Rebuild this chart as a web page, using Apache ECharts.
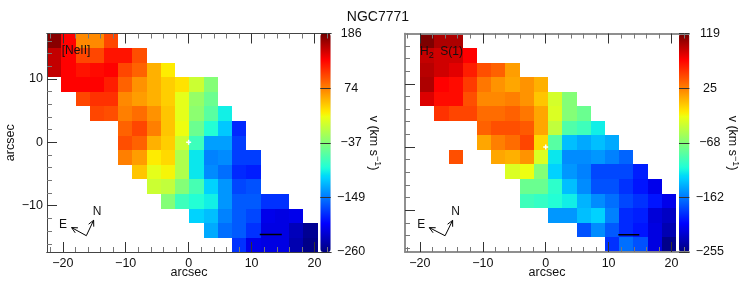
<!DOCTYPE html>
<html><head><meta charset="utf-8">
<style>html,body{margin:0;padding:0;background:#fff}#c{width:747px;height:285px}</style>
<script src="https://cdn.jsdelivr.net/npm/echarts@6/dist/echarts.min.js"></script>
</head><body><div id="c"></div>
<script>
// Velocity maps (km/s); each row is listed from its first filled column, top row first.
const neFirstCol = [0,0,0,1,2,3,5,5,5,6,7,8,10,11,13];
const neRows = [
 [177,132,70,70,101],
 [155,132,101,101,124,124,97],
 [155,132,124,128,132,101,88,52,25],
 [132,132,132,119,88,66,52,39,30,-1,-37],
 [101,110,110,70,61,52,39,12,-28,-50],
 [101,97,75,83,66,43,12,-33,-59,-95],
 [88,101,75,43,17,-50,-86,-113,-184],
 [97,88,52,39,-1,-73,-131,-131,-175],
 [75,61,25,34,-15,-99,-144,-140,-175,-175],
 [43,12,21,-15,-99,-140,-153,-184,-189],
 [-1,-6,-37,-68,-108,-135,-171,-166],
 [-37,-73,-86,-95,-135,-162,-162,-180,-180],
 [-108,-117,-144,-162,-171,-211,-215,-211],
 [-126,-153,-162,-180,-215,-215,-233,-251],
 [-180,-211,-215,-215,-238,-256]
];
const h2FirstCol = [1,1,1,1,1,2,5,5,3,7,8,8,10,12,14];
const h2Rows = [
 [115,100,100],
 [93,89,89,74],
 [97,89,83,63,44,37,14],
 [100,74,70,52,29,18,11,18,7],
 [85,70,70,44,22,22,26,18,-1,-34,-68],
 [55,48,48,33,33,37,29,11,-31,-68,-79],
 [37,44,44,40,11,-42,-90,-98,-117],
 [11,26,33,48,-8,-87,-135,-143,-135,-143],
 [44,null,null,11,7,18,-31,-120,-154,-154,-150,-158,-169],
 [-31,-23,-68,-128,-150,-158,-180,-180,-180,-195],
 [-79,-79,-105,-135,-154,-176,-176,-188,-199,-214],
 [-98,-102,-109,-117,-139,-154,-165,-180,-188,-199,-214],
 [-150,-150,-135,-128,-158,-191,-195,-221,-229],
 [-176,-154,-173,-191,-199,-218,-236],
 [-188,-165,-176,-218,-251]
];
const neColorTicks = [-260,-149,-37,74,186];
const h2ColorTicks = [-255,-162,-68,25,119];
const xMajor = [-20,-10,0,10,20];
const xMinor = [-22,-18,-16,-14,-12,-8,-6,-4,-2,2,4,6,8,12,14,16,18,22];
const yMajor = [-10,0,10];
const yMinor = [-16,-14,-12,-8,-6,-4,-2,2,4,6,8,12,14,16];

function jet(f){
  const c=v=>Math.round(255*Math.max(0,Math.min(1,v)));
  const r=f<.35?0:f<.64?(f-.35)/.29:f<.88?1:1-(f-.88)/.12*.56;
  const g=f<.13?0:f<.385?(f-.13)/.255:f<.62?1:f<.88?1-(f-.62)/.26:0;
  const b=f<.13?.5+f/.13*.5:f<.34?1:f<.64?1-(f-.34)/.30:0;
  return `rgb(${c(r)},${c(g)},${c(b)})`;
}
const jetList=[];for(let i=0;i<=200;i++)jetList.push(jet(i/200));

const FONT='"Liberation Sans",Arial,sans-serif';
const AXC='#333',MINC='#777';
const labelFmt=v=>String(v).replace('-','\u2212');

const panels=[
 {first:neFirstCol,rows:neRows,ticks:neColorTicks,vmin:-260,vmax:186,
  gl:47,xmin:-22.51,xmax:22.62,ymin:-17.3,ymax:17.15,cellX0:-22.5,cellYTop:17.15,
  cbL:320.3,yLabels:true,line:'#444',lw:1,
  bar:[[11.3,-14.55],[14.8,-14.55]],
  corner:[-16.26,-14.73],tipN:[-15.1,-12.3],tipE:[-18.6,-13.45]},
 {first:h2FirstCol,rows:h2Rows,ticks:h2ColorTicks,vmin:-255,vmax:119,
  gl:405,xmin:-22.37,xmax:22.78,ymin:-16.6,ymax:17.95,cellX0:-22.24,cellYTop:17.95,
  cbL:679,yLabels:false,line:'#888',lw:1.5,
  bar:[[11.54,-13.87],[14.88,-13.87]],
  corner:[-16.0,-14.03],tipN:[-14.8,-11.6],tipE:[-18.5,-12.75]}
];
const CELLW=2.262, CELLH=2.3, TOP=33.5, H=218.5, W=284;

const grid=[],xAxis=[],yAxis=[],series=[],visualMap=[];
panels.forEach((p,pi)=>{
  const g=grid.length;
  grid.push({left:p.gl,top:TOP,width:W,height:H,containLabel:false,outerBoundsMode:'none'});
  const xs=xAxis.length, ys=yAxis.length;
  const ax=(o)=>Object.assign({type:'value',gridIndex:g,z:10,splitLine:{show:false},silent:true},o);
  const mkX=(pos,vals,len,color,label,name)=>ax({min:p.xmin,max:p.xmax,position:pos,
    axisLine:{show:true,onZero:false,lineStyle:{color:p.line,width:p.lw}},
    axisTick:{show:true,inside:true,length:len,customValues:vals,lineStyle:{color,width:1}},
    axisLabel:label?{show:true,customValues:vals,formatter:labelFmt,fontFamily:FONT,fontSize:12.5,color:'#111',margin:5}:{show:false},
    name:name||'',nameLocation:'middle',nameGap:14,nameMoveOverlap:false,nameTextStyle:{fontFamily:FONT,fontSize:12.5,color:'#111'}});
  xAxis.push(mkX('bottom',xMajor,10,AXC,true,'arcsec'));
  xAxis.push(mkX('bottom',xMinor,5,MINC,false));
  xAxis.push(mkX('top',xMajor,10,AXC,false));
  xAxis.push(mkX('top',xMinor,5,MINC,false));
  const mkY=(vals,len,color,label,name)=>ax({min:p.ymin,max:p.ymax,position:'left',
    axisLine:{show:true,onZero:false,lineStyle:{color:p.line,width:p.lw}},
    axisTick:{show:true,inside:true,length:len,customValues:vals,lineStyle:{color,width:1}},
    axisLabel:label?{show:true,customValues:vals,formatter:labelFmt,fontFamily:FONT,fontSize:12.5,color:'#111',margin:4}:{show:false},
    name:name||'',nameLocation:'middle',nameGap:30,nameMoveOverlap:false,nameTextStyle:{fontFamily:FONT,fontSize:12.5,color:'#111'}});
  yAxis.push(mkY(yMajor,10,AXC,p.yLabels,p.yLabels?'arcsec':''));
  yAxis.push(mkY(yMinor,5,MINC,false));

  const data=[];
  p.rows.forEach((row,r)=>row.forEach((v,k)=>{ if(v!==null) data.push([p.first[r]+k,r,v]); }));
  const sIdx=series.length;
  series.push({type:'custom',name:pi?'H2 S(1)':'[NeII]',xAxisIndex:xs,yAxisIndex:ys,z:2,silent:true,clip:true,
    encode:{x:-1,y:-1},data,
    renderItem(params,api){
      const c=api.value(0),r=api.value(1);
      const a=api.coord([p.cellX0+c*CELLW,p.cellYTop-r*CELLH]).map(Math.round);
      const b=api.coord([p.cellX0+(c+1)*CELLW,p.cellYTop-(r+1)*CELLH]).map(Math.round);
      const rect=echarts.graphic.clipRectByRect({x:a[0],y:a[1],width:b[0]-a[0],height:b[1]-a[1]},
        {x:params.coordSys.x,y:params.coordSys.y,width:params.coordSys.width,height:params.coordSys.height});
      return rect&&{type:'rect',shape:rect,style:{fill:api.visual('color'),stroke:null}};
    }});
  visualMap.push({type:'continuous',seriesIndex:sIdx,dimension:2,min:p.vmin,max:p.vmax,
    inRange:{color:jetList},calculable:false,realtime:false,text:null,showLabel:false,
    left:p.cbL,top:TOP,itemWidth:10.4,itemHeight:H,padding:0,z:6,hoverLink:false});
  // white cross at the nucleus
  series.push({type:'custom',xAxisIndex:xs,yAxisIndex:ys,z:4,silent:true,encode:{x:0,y:1},data:[[0,0]],
    renderItem(params,api){
      const c=api.coord([api.value(0),api.value(1)]);
      return {type:'group',children:[
        {type:'rect',shape:{x:c[0]-2.5,y:c[1]-.75,width:5,height:1.5},style:{fill:'#fff'}},
        {type:'rect',shape:{x:c[0]-.75,y:c[1]-2.5,width:1.5,height:5},style:{fill:'#fff'}}]};
    }});
  const ln=(d,w)=>({type:'line',xAxisIndex:xs,yAxisIndex:ys,z:5,silent:true,symbol:'none',animation:false,
    data:d,lineStyle:{color:'#000',width:w}});
  series.push(ln(p.bar,1.6));
  const head=(t)=>{const dx=t[0]-p.corner[0],dy=t[1]-p.corner[1],l=Math.hypot(dx,dy),ux=dx/l,uy=dy/l,s=.9,w=.45;
    return [[t[0]-ux*s-uy*w,t[1]-uy*s+ux*w],t,[t[0]-ux*s+uy*w,t[1]-uy*s-ux*w]];};
  series.push(ln([p.tipN,p.corner,p.tipE],1));
  series.push(ln(head(p.tipN),1));
  series.push(ln(head(p.tipE),1));

  // colour-bar tick axis
  const gc=grid.length;
  grid.push({left:p.cbL,top:TOP,width:10.4,height:H,outerBoundsMode:'none'});
  xAxis.push({type:'value',gridIndex:gc,min:0,max:1,show:false});
  yAxis.push({type:'value',gridIndex:gc,min:p.vmin,max:p.vmax,position:'right',z:10,silent:true,
    splitLine:{show:false},
    axisLine:{show:false,onZero:false},
    axisTick:{show:true,inside:true,length:10.4,customValues:p.ticks,lineStyle:{color:'#333',width:1}},
    axisLabel:{show:true,customValues:p.ticks,formatter:labelFmt,align:'center',margin:20.5,padding:[0,0,4,0],
      fontFamily:FONT,fontSize:12.5,color:'#111',hideOverlap:false}});
});

const t=(text,x,y,extra)=>Object.assign({type:'text',x,y,z:20,silent:true,
  style:Object.assign({text,fill:'#111',font:'12.5px '+FONT,align:'center',verticalAlign:'middle'},extra&&extra.style||{})},extra&&extra.base||{});
const rot=(x)=>t('{a|v (km s}{s|\u22121}{a|)}',x,143,{base:{rotation:-Math.PI/2},style:{rich:{
  a:{font:'12.5px '+FONT,fill:'#111'},
  s:{font:'9px '+FONT,fill:'#111',padding:[0,0,7,0]}}}});
const graphic=[
  t('[NeII]',76,51,{style:{font:'12px '+FONT}}),
  t('{a|H}{s|2}{a|  S(1)}',441.5,52,{style:{rich:{
    a:{font:'12px '+FONT,fill:'#111'},
    s:{font:'9px '+FONT,fill:'#111',padding:[7,0,0,0]}}}}),
  t('N',97,212,{style:{font:'12px '+FONT}}),
  t('E',63,225,{style:{font:'12px '+FONT}}),
  t('N',455.7,212,{style:{font:'12px '+FONT}}),
  t('E',421.3,225,{style:{font:'12px '+FONT}}),
  rot(373.5),rot(732)
];

const chart=echarts.init(document.getElementById('c'),null,{renderer:'canvas'});
chart.setOption({animation:false,backgroundColor:'#fff',
  title:{text:'NGC7771',left:373,textAlign:'center',top:5,textStyle:{fontFamily:FONT,fontSize:14,fontWeight:'normal',color:'#111'}},
  grid,xAxis,yAxis,series,visualMap,graphic,tooltip:{show:false}});
</script></body></html>
